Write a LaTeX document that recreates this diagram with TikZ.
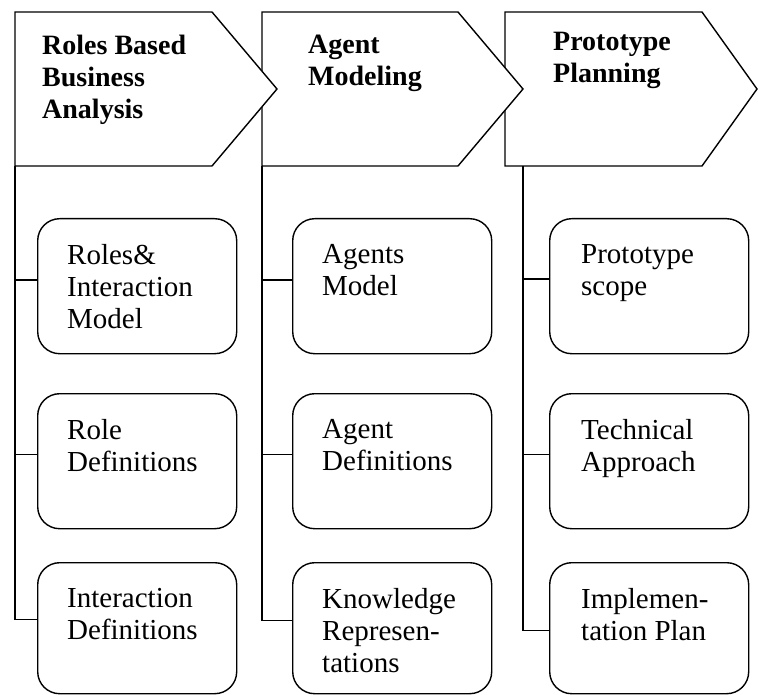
\documentclass[tikz,border=0pt]{standalone}
\usepackage{fontspec}
\setmainfont{Liberation Serif}
\usetikzlibrary{positioning}

\begin{document}
\begin{tikzpicture}[
    x=1pt, y=-1pt,
    chevron/.style={draw, line width=1.4pt, fill=white, line join=miter},
    head/.style={font=\bfseries\fontsize{28}{32}\selectfont, align=left, inner sep=0pt, anchor=north west, execute at begin node=\strut},
    item/.style={draw, line width=1.4pt, rounded corners=22pt, minimum width=199pt, minimum height=135pt, inner sep=0pt, anchor=north west},
    itemtext/.style={font=\fontsize{29}{32}\selectfont, align=left, inner sep=0pt, execute at begin node=\strut},
    branch/.style={line width=1.4pt}
]
    \useasboundingbox (0,0) rectangle (758,695);

    % Chevrons (drawn right to left so each tip lies on top)
    \draw[chevron] (505,12) -- (702,12) -- (757,89) -- (702,166) -- (505,166) -- cycle;
    \draw[chevron] (262,12) -- (458,12) -- (523,89) -- (458,166) -- (262,166) -- cycle;
    \draw[chevron] (15,12) -- (212,12) -- (277,89) -- (212,166) -- (15,166) -- cycle;

    % Stem tops under each chevron
    \coordinate (t1) at (15,166);
    \coordinate (t2) at (262,166);
    \coordinate (t3) at (523,166);

    % Headings
    \node[head] (h1) at (42,35) {Roles Based\\Business\\Analysis};
    \node[head] (h2) at (308,35) {Agent\\Modeling};
    \node[head] (h3) at (553,32) {Prototype\\Planning};

    % Roles Based Business Analysis
    \node[item] (r1) at (37,218) {};
    \node[itemtext, below right=26pt and 30pt of r1.north west] {Roles\&\\Interaction\\Model};
    \node[item] (r2) at (37,393) {};
    \node[itemtext, below right=26pt and 30pt of r2.north west] {Role\\Definitions};
    \node[item, minimum height=131pt] (r3) at (37,562) {};
    \node[itemtext, below right=26pt and 30pt of r3.north west] {Interaction\\Definitions};

    % Agent Modeling
    \node[item] (m1) at (292,218) {};
    \node[itemtext, below right=26pt and 30pt of m1.north west] {Agents\\Model};
    \node[item] (m2) at (292,393) {};
    \node[itemtext, below right=26pt and 30pt of m2.north west] {Agent\\Definitions};
    \node[item, minimum height=131pt] (m3) at (292,562) {};
    \node[itemtext, below right=26pt and 30pt of m3.north west] {Knowledge\\Represen-\\tations};

    % Prototype Planning
    \node[item] (p1) at (549,218) {};
    \node[itemtext, below right=26pt and 32pt of p1.north west] {Prototype\\scope};
    \node[item] (p2) at (549,393) {};
    \node[itemtext, below right=26pt and 32pt of p2.north west] {Technical\\Approach};
    \node[item, minimum height=131pt] (p3) at (549,562) {};
    \node[itemtext, below right=26pt and 32pt of p3.north west] {Implemen-\\tation Plan};

    % Stems and branches
    \draw[branch] ([yshift=9pt]r3.west) -| (t1);
    \draw[branch] ([yshift=7pt]r2.west) -| (t1);
    \draw[branch] ([yshift=6pt]r1.west) -| (t1);

    \draw[branch] ([yshift=8pt]m3.west) -| (t2);
    \draw[branch] ([yshift=7pt]m2.west) -| (t2);
    \draw[branch] ([yshift=6pt]m1.west) -| (t2);

    \draw[branch] ([yshift=-2pt]p3.west) -| (t3);
    \draw[branch] ([yshift=7pt]p2.west) -| (t3);
    \draw[branch] ([yshift=7pt]p1.west) -| (t3);

\end{tikzpicture}
\end{document}
